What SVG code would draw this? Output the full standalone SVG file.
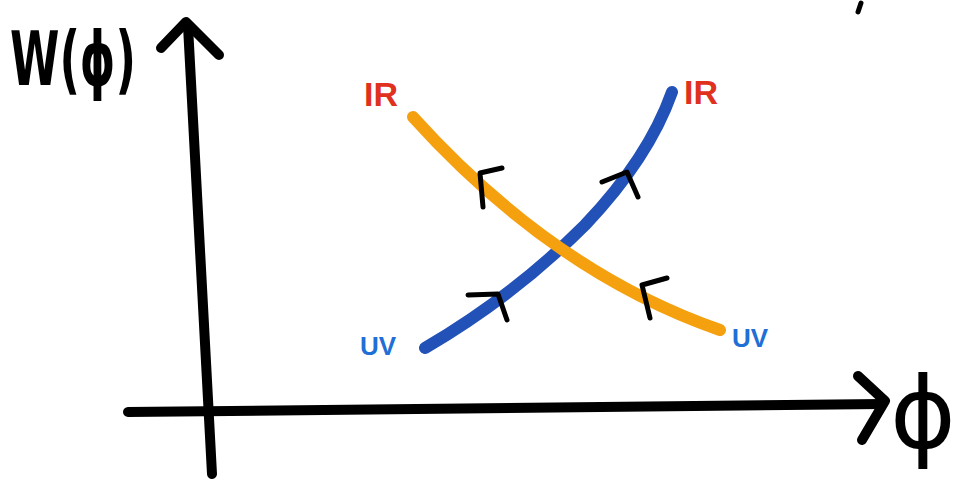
<svg xmlns="http://www.w3.org/2000/svg" width="961" height="481" viewBox="0 0 961 481">
<style>
.ax{fill:none;stroke:#000;stroke-width:10;stroke-linecap:round;stroke-linejoin:round}
.mk{fill:none;stroke:#000;stroke-width:5;stroke-linecap:round;stroke-linejoin:round}
.cv{fill:none;stroke-width:12;stroke-linecap:round}
.ir{fill:#e0301e;font-family:"Liberation Sans",Arial,sans-serif;font-weight:bold;font-size:34px}
.uv{fill:#1f6fd6;font-family:"Liberation Sans",Arial,sans-serif;font-weight:bold;font-size:26px}
.big{fill:#000;font-family:"DejaVu Sans","Liberation Sans",sans-serif}
</style>
<rect width="961" height="481" fill="#fff"/>
<g id="axes">
<path class="ax" d="M212,474 L188,26"/>
<path class="ax" d="M161,48 L186,22 L219,55"/>
<path class="ax" d="M128,412 L882,404"/>
<path class="ax" d="M858,376 L885,401 L862,440"/>
<path d="M861,3 L858,12" stroke="#000" stroke-width="5" stroke-linecap="round"/>
</g>
<g id="connectors">
<path id="uv-ir-blue" class="cv" stroke="#2251b8" d="M425,348 C490,310 540,270 585,225 C625,183 655,140 672,92"/>
<path id="ir-uv-orange" class="cv" stroke="#f5a00e" d="M413,117 Q553,272 720,330"/>
</g>
<g id="flow-marks">
<path class="mk" d="M483,207 L480,173 L502,168"/>
<path class="mk" d="M650,318 L642,285 L667,278"/>
<path class="mk" d="M468,295 L498,294 L507,320"/>
<path class="mk" d="M602,182 L627,172 L638,197"/>
</g>
<g id="label-w"><text class="big" x="10" y="85" font-size="74" font-weight="bold" textLength="126" lengthAdjust="spacingAndGlyphs">W(ϕ)</text></g>
<g id="label-phi"><text class="big" x="923" y="448" font-size="100" text-anchor="middle">ϕ</text></g>
<g id="label-ir-left"><text class="ir" x="364" y="106">IR</text></g>
<g id="label-ir-right"><text class="ir" x="684" y="104">IR</text></g>
<g id="label-uv-left"><text class="uv" x="360" y="355">UV</text></g>
<g id="label-uv-right"><text class="uv" x="732" y="347">UV</text></g>
</svg>
